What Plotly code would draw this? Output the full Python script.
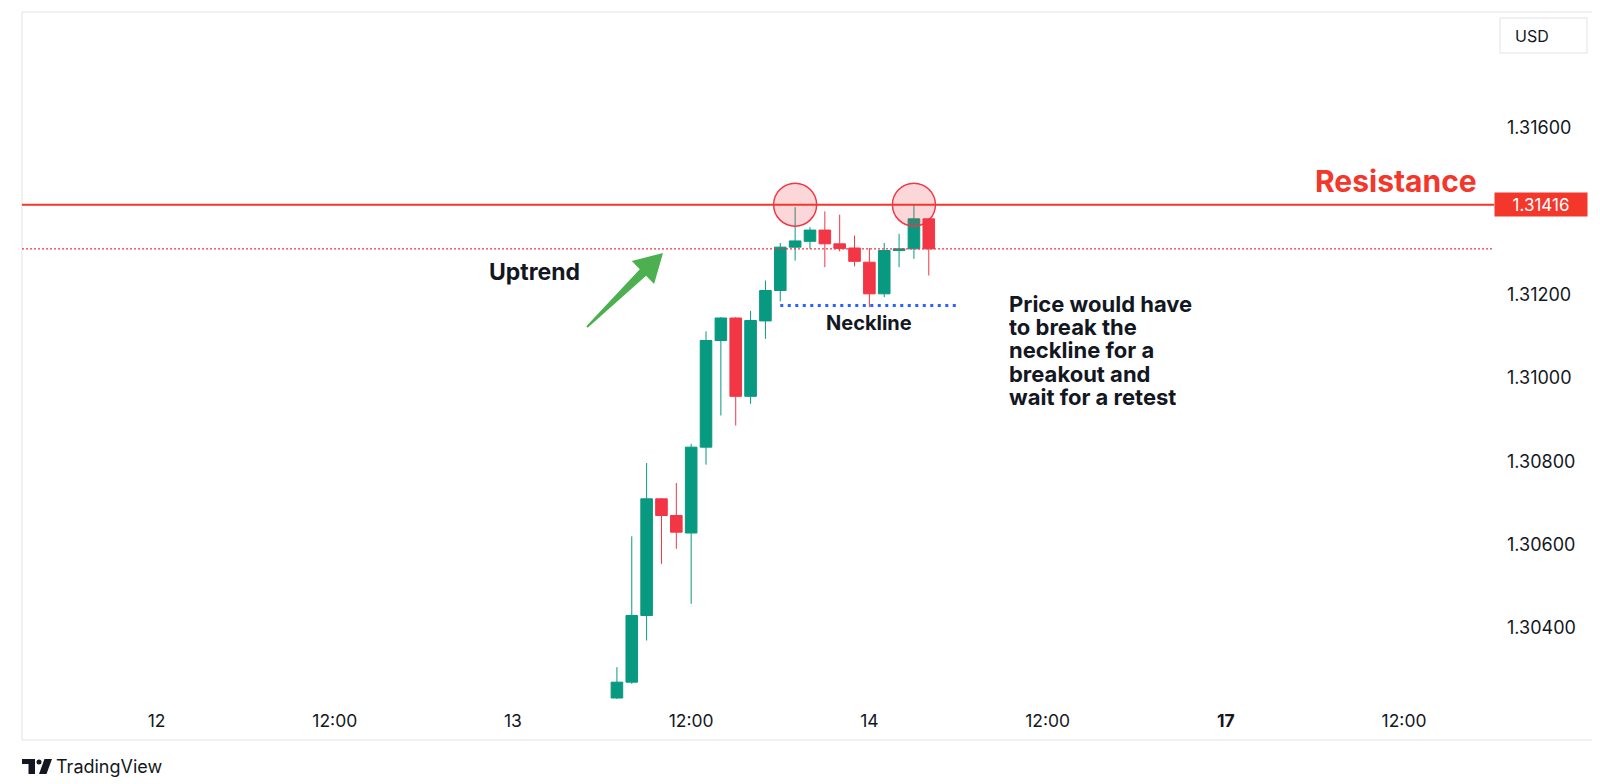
import math
import plotly.graph_objects as go

# hourly candles; x = hours counted from the 12th 00:00 (weekend skipped)
hours = [31, 32, 33, 34, 35, 36, 37, 38, 39, 40, 41,
         42, 43, 44, 45, 46, 47, 48, 49, 50, 51, 52]
opens = [1.30232, 1.30270, 1.30430, 1.30710, 1.30670, 1.30628, 1.30834, 1.31090, 1.31144, 1.30956, 1.31137,
         1.31210, 1.31314, 1.31328, 1.31355, 1.31322, 1.31312, 1.31278, 1.31202, 1.31306, 1.31310, 1.31382]
highs = [1.30306, 1.30620, 1.30796, 1.30712, 1.30748, 1.30842, 1.31112, 1.31146, 1.31146, 1.31161, 1.31234,
         1.31324, 1.31410, 1.31362, 1.31400, 1.31392, 1.31342, 1.31312, 1.31324, 1.31346, 1.31416, 1.31384]
lows = [1.30230, 1.30266, 1.30370, 1.30554, 1.30590, 1.30458, 1.30792, 1.30910, 1.30886, 1.30938, 1.31094,
        1.31184, 1.31282, 1.31310, 1.31266, 1.31304, 1.31268, 1.31170, 1.31194, 1.31266, 1.31286, 1.31246]
closes = [1.30270, 1.30430, 1.30710, 1.30670, 1.30630, 1.30834, 1.31090, 1.31144, 1.30956, 1.31138, 1.31210,
          1.31314, 1.31329, 1.31355, 1.31322, 1.31311, 1.31280, 1.31202, 1.31306, 1.31310, 1.31382, 1.31310]

tick_hours = [0, 12, 24, 36, 48, 60, 72, 84]
tick_text = ["12", "12:00", "13", "12:00", "14", "12:00", "<b>17</b>", "12:00"]
price_ticks = [1.304, 1.306, 1.308, 1.310, 1.312, 1.316]

resistance = 1.31416
neckline = 1.31174
neck_from, neck_to = 42, 54
touch_hours = [43, 51]
note_lines = ["Price would have", "to break the", "neckline for a", "breakout and", "wait for a retest"]

GREEN = "#089981"
RED = "#F23645"
LINE_RED = "#F4372B"
TEXT = "#131722"
FONT = "Inter"

# plot box in pixels and axis ranges
L, R, T, B = 14, 1486, 4, 700
X_RANGE = [-9.06, 90.06]
Y_RANGE = [1.30208, 1.318784]


def px_x(X):
    return X_RANGE[0] + (X - L) / (R - L) * (X_RANGE[1] - X_RANGE[0])


def px_y(Y):
    return Y_RANGE[1] - (Y - T) / (B - T) * (Y_RANGE[1] - Y_RANGE[0])


def paper_x(X):
    return (X - L) / (R - L)


def paper_y(Y):
    return (B - Y) / (B - T)


def arrow_path(tail, tip, head_len=28, head_half=16, shaft_half=4.5, tail_half=1):
    dx, dy = tip[0] - tail[0], tip[1] - tail[1]
    ln = math.hypot(dx, dy)
    ux, uy = dx / ln, dy / ln
    nx, ny = -uy, ux
    bx, by = tip[0] - ux * head_len, tip[1] - uy * head_len
    pts = [
        (tail[0] - nx * tail_half, tail[1] - ny * tail_half),
        (bx - nx * shaft_half, by - ny * shaft_half),
        (bx - nx * head_half, by - ny * head_half),
        tip,
        (bx + nx * head_half, by + ny * head_half),
        (bx + nx * shaft_half, by + ny * shaft_half),
        (tail[0] + nx * tail_half, tail[1] + ny * tail_half),
    ]
    return "M " + " L ".join(f"{px_x(x):.5f},{px_y(y):.7f}" for x, y in pts) + " Z"


def paper_path(pts):
    return "M " + " L ".join(f"{paper_x(x):.5f},{paper_y(y):.5f}" for x, y in pts) + " Z"


fig = go.Figure()
fig.add_trace(go.Candlestick(
    x=hours, open=opens, high=highs, low=lows, close=closes,
    increasing=dict(line=dict(color=GREEN, width=1), fillcolor=GREEN),
    decreasing=dict(line=dict(color=RED, width=1), fillcolor=RED),
    whiskerwidth=0, showlegend=False, hoverinfo="skip",
))

shapes = []
# chart frame
shapes.append(dict(type="rect", xref="paper", yref="paper",
                   x0=paper_x(14), x1=paper_x(1585), y0=paper_y(732), y1=paper_y(4),
                   line=dict(color="#E0E3EB", width=1), layer="below"))
# last price dotted line
shapes.append(dict(type="line", xref="paper", yref="y", x0=0, x1=1, y0=closes[-1], y1=closes[-1],
                   line=dict(color=RED, width=1.2, dash="2px,2px")))
# resistance
shapes.append(dict(type="line", xref="paper", yref="y", x0=0, x1=1, y0=resistance, y1=resistance,
                   line=dict(color=LINE_RED, width=2)))
# neckline
shapes.append(dict(type="line", xref="x", yref="y", x0=neck_from, x1=neck_to, y0=neckline, y1=neckline,
                   line=dict(color="#2962FF", width=3, dash="3px,4.5px")))
# circles on the two touches
for h in touch_hours:
    shapes.append(dict(type="circle", xref="x", yref="y", xsizemode="pixel", ysizemode="pixel",
                       xanchor=h, yanchor=resistance, x0=-21.5, x1=21.5, y0=-21.5, y1=21.5,
                       fillcolor="rgba(242,54,69,0.2)", line=dict(color=RED, width=1.5)))
# uptrend arrow
shapes.append(dict(type="path", xref="x", yref="y", path=arrow_path((579, 319), (655, 245)),
                   fillcolor="#4CAF50", line=dict(width=0)))
# USD box
shapes.append(dict(type="rect", xref="paper", yref="paper",
                   x0=paper_x(1492), x1=paper_x(1579), y0=paper_y(45), y1=paper_y(10),
                   line=dict(color="#E0E3EB", width=1)))
# TradingView logo
shapes.append(dict(type="path", xref="paper", yref="paper", fillcolor=TEXT, line=dict(width=0),
                   path=paper_path([(14, 751), (27, 751), (27, 766), (20.5, 766), (20.5, 756), (14, 756)])))
shapes.append(dict(type="circle", xref="paper", yref="paper", fillcolor=TEXT, line=dict(width=0),
                   x0=paper_x(28.5), x1=paper_x(33.5), y0=paper_y(756.5), y1=paper_y(751.5)))
shapes.append(dict(type="path", xref="paper", yref="paper", fillcolor=TEXT, line=dict(width=0),
                   path=paper_path([(36.5, 751), (44, 751), (38.5, 766), (31, 766)])))

annotations = []
annotations.append(dict(text="<b>Uptrend</b>", xref="x", yref="y", x=px_x(526), y=px_y(264),
                        showarrow=False, font=dict(family=FONT, size=23, color=TEXT)))
annotations.append(dict(text="<b>Neckline</b>", xref="x", yref="y", x=48, y=px_y(315),
                        showarrow=False, font=dict(family=FONT, size=20, color=TEXT)))
for i, line in enumerate(note_lines):
    annotations.append(dict(text=f"<b>{line}</b>", xref="x", yref="y", x=px_x(1000), y=px_y(295 + 23.4 * i),
                            xanchor="left", yanchor="middle", showarrow=False, height=21, borderpad=0,
                            valign="middle", font=dict(family=FONT, size=22, color=TEXT)))
annotations.append(dict(text="<b>Resistance</b>", xref="x", yref="y", x=px_x(1471), y=px_y(173),
                        xanchor="right", yanchor="middle", showarrow=False,
                        font=dict(family=FONT, size=30, color=LINE_RED)))
annotations.append(dict(text=f"{resistance:.5f}", xref="paper", yref="y", x=1, y=resistance,
                        xanchor="left", yanchor="middle", showarrow=False, bgcolor=LINE_RED,
                        width=86, height=17, borderpad=3, align="center",
                        font=dict(family=FONT, size=17, color="white")))
annotations.append(dict(text="USD", xref="paper", yref="paper", x=paper_x(1505), y=paper_y(28),
                        xanchor="left", yanchor="middle", showarrow=False,
                        font=dict(family=FONT, size=16, color=TEXT)))
annotations.append(dict(text="TradingView", xref="paper", yref="paper", x=paper_x(46), y=paper_y(758),
                        xanchor="left", yanchor="middle", showarrow=False,
                        font=dict(family=FONT, size=18, color=TEXT)))

fig.update_layout(
    width=1600, height=784,
    margin=dict(l=L, r=1600 - R, t=T, b=784 - B),
    paper_bgcolor="white", plot_bgcolor="white",
    boxgap=0.22, boxgroupgap=0,
    shapes=shapes, annotations=annotations,
    xaxis=dict(range=X_RANGE, tickvals=tick_hours, ticktext=tick_text, showgrid=False,
               zeroline=False, showline=False, ticks="", rangeslider=dict(visible=False),
               tickfont=dict(family=FONT, size=17.5, color=TEXT), fixedrange=True),
    yaxis=dict(range=Y_RANGE, side="right", tickvals=price_ticks, tickformat=".5f", showgrid=False,
               zeroline=False, showline=False, ticks="", ticklabelstandoff=12,
               tickfont=dict(family=FONT, size=18, color=TEXT), fixedrange=True),
    font=dict(family=FONT),
)

fig.write_html("out.html")
